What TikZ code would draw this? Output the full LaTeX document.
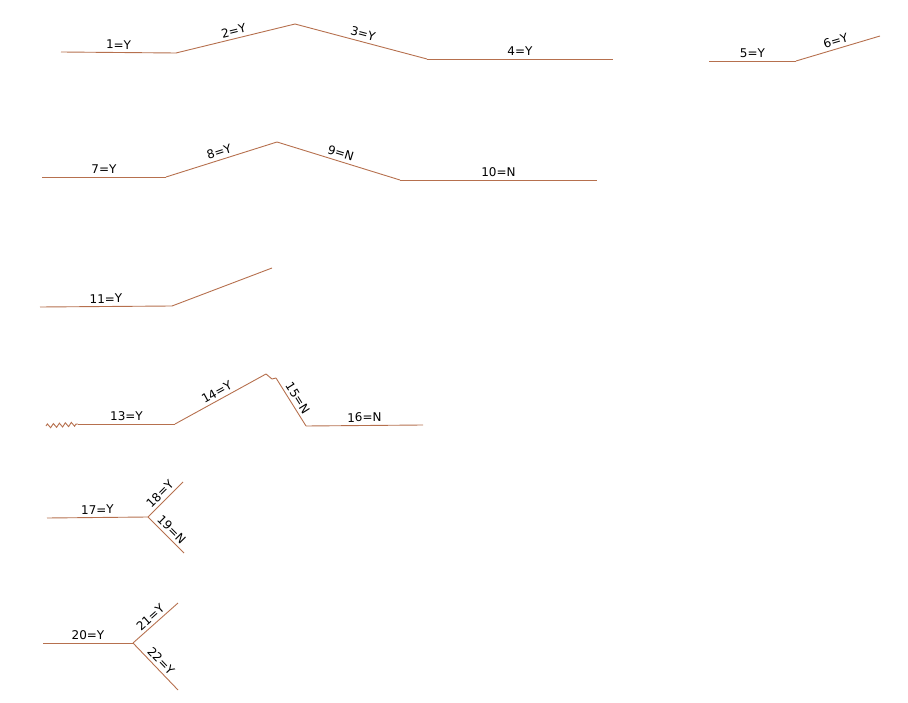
\documentclass[tikz,border=0pt]{standalone}
\usepackage{fontspec}
\setmainfont{DejaVu Sans}
\usetikzlibrary{decorations.pathmorphing}
\definecolor{pipe}{RGB}{182,112,78}

\tikzset{
    seg/.style={draw=pipe, line width=0.9pt},
    lbl/.style={midway, above, sloped, inner sep=3pt, font=\fontsize{12}{13}\selectfont}
}

\begin{document}
\begin{tikzpicture}[x=1pt,y=-1pt]
        \useasboundingbox (0,0) rectangle (908,703);

        % first run
        \coordinate (A1) at (61,52);
        \coordinate (A2) at (176,53);
        \coordinate (A3) at (295,24);
        \coordinate (A4) at (427,59);
        \coordinate (A5) at (613,59);
        \draw[seg] (A1) -- (A2) node [lbl] (l1) {1=Y};
        \draw[seg] (A2) -- (A3) node [lbl] (l2) {2=Y};
        \draw[seg] (A3) -- (A4) node [lbl] (l3) {3=Y};
        \draw[seg] (A4) -- (A5) node [lbl] (l4) {4=Y};

        % right run
        \coordinate (B1) at (709,61);
        \coordinate (B2) at (796,61);
        \coordinate (B3) at (880,36);
        \draw[seg] (B1) -- (B2) node [lbl] (l5) {5=Y};
        \draw[seg] (B2) -- (B3) node [lbl] (l6) {6=Y};

        % second run
        \coordinate (C1) at (42,177);
        \coordinate (C2) at (166,177);
        \coordinate (C3) at (277,142);
        \coordinate (C4) at (400,180);
        \coordinate (C5) at (597,180);
        \draw[seg] (C1) -- (C2) node [lbl] (l7) {7=Y};
        \draw[seg] (C2) -- (C3) node [lbl] (l8) {8=Y};
        \draw[seg] (C3) -- (C4) node [lbl] (l9) {9=N};
        \draw[seg] (C4) -- (C5) node [lbl] (l10) {10=N};

        % third run
        \coordinate (D1) at (40,307);
        \coordinate (D2) at (172,306);
        \coordinate (D3) at (272,268);
        \draw[seg] (D1) -- (D2) node [lbl] (l11) {11=Y};
        \draw[seg] (D2) -- (D3);

        % fourth run
        \coordinate (E0) at (46,426);
        \coordinate (E1) at (78,424);
        \coordinate (E2) at (175,424);
        \coordinate (E3) at (266,374);
        \coordinate (E4) at (276,378);
        \coordinate (E5) at (306,426);
        \coordinate (E6) at (423,425);
        \draw[seg, decorate, decoration={zigzag, segment length=6pt, amplitude=2pt}] (E0) -- (E1);
        \draw[seg] (E1) -- (E2) node [lbl] (l13) {13=Y};
        \draw[seg] (E2) -- (E3) node [lbl] (l14) {14=Y};
        \draw[seg] (E3) -- (272,379) -- (E4);
        \draw[seg] (E4) -- (E5) node [lbl] (l15) {15=N};
        \draw[seg] (E5) -- (E6) node [lbl] (l16) {16=N};

        % fifth run
        \coordinate (F1) at (47,518);
        \coordinate (F2) at (148,517);
        \coordinate (F3) at (183,482);
        \coordinate (F4) at (184,553);
        \draw[seg] (F1) -- (F2) node [lbl] (l17) {17=Y};
        \draw[seg] (F2) -- (F3) node [lbl] (l18) {18=Y};
        \draw[seg] (F2) -- (F4) node [lbl] (l19) {19=N};

        % sixth run
        \coordinate (G1) at (43,643);
        \coordinate (G2) at (133,643);
        \coordinate (G3) at (178,603);
        \coordinate (G4) at (178,690);
        \draw[seg] (G1) -- (G2) node [lbl] (l20) {20=Y};
        \draw[seg] (G2) -- (G3) node [lbl] (l21) {21=Y};
        \draw[seg] (G2) -- (G4) node [lbl] (l22) {22=Y};
\end{tikzpicture}
\end{document}
